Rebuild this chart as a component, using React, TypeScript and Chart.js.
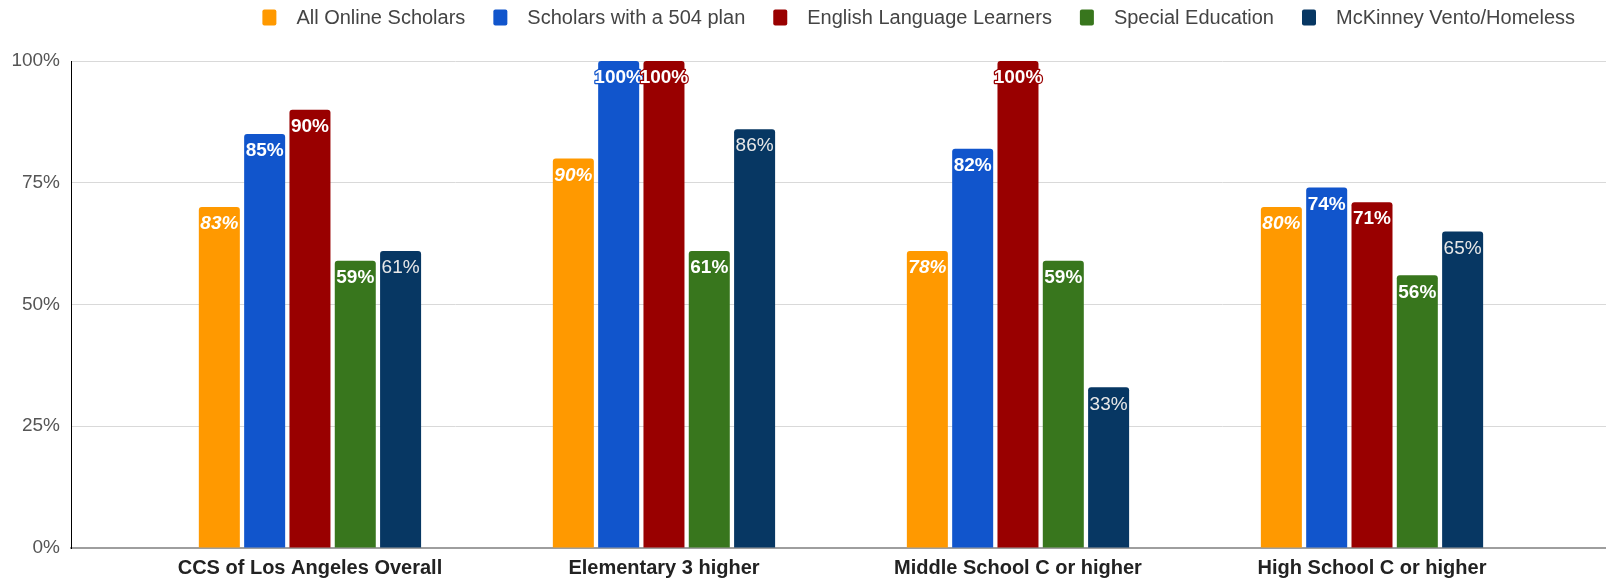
import React, { useEffect, useRef } from "react";
import { Chart, registerables } from "chart.js";

Chart.register(...registerables);

const categories = [
  "CCS of Los Angeles Overall",
  "Elementary 3 higher",
  "Middle School C or higher",
  "High School C or higher",
];

const seriesNames = [
  "All Online Scholars",
  "Scholars with a 504 plan",
  "English Language Learners",
  "Special Education",
  "McKinney Vento/Homeless",
];

const seriesColors = ["#ff9900", "#1155cc", "#990000", "#38761d", "#073763"];

// bar heights (percent)
const allOnline = [70, 80, 61, 70];
const plan504 = [85, 100, 82, 74];
const ell = [90, 100, 100, 71];
const specialEd = [59, 61, 59, 56];
const homeless = [61, 86, 33, 65];

// label texts shown on bars
const allOnlineLabels = ["83%", "90%", "78%", "80%"];
const plan504Labels = ["85%", "100%", "82%", "74%"];
const ellLabels = ["90%", "100%", "100%", "71%"];
const specialEdLabels = ["59%", "61%", "59%", "56%"];
const homelessLabels = ["61%", "86%", "33%", "65%"];

const yTicks = [0, 25, 50, 75, 100];

const seriesValues = [allOnline, plan504, ell, specialEd, homeless];
const seriesLabels = [allOnlineLabels, plan504Labels, ellLabels, specialEdLabels, homelessLabels];
const labelStyles = [
  { style: "italic", weight: "bold", color: "#ffffff" },
  { style: "normal", weight: "bold", color: "#ffffff" },
  { style: "normal", weight: "bold", color: "#ffffff" },
  { style: "normal", weight: "bold", color: "#ffffff" },
  { style: "normal", weight: "normal", color: "#e8e8e8" },
];

const FONT = "'Liberation Sans', Arial, sans-serif";

// custom legend: swatch, gap, text, gap ... right aligned
const customLegend = {
  id: "customLegend",
  afterDraw(chart: any) {
    const ctx = chart.ctx;
    const swW = 14;
    const swH = 16;
    const swGap = 20;
    const itemGap = 28;
    const rightEdge = chart.width - 31;
    const cy = 17.5;
    ctx.save();
    ctx.font = `20px ${FONT}`;
    const widths = seriesNames.map((n) => ctx.measureText(n).width);
    const total = widths.reduce((a, w) => a + swW + swGap + w, 0) + itemGap * (seriesNames.length - 1);
    let x = rightEdge - total;
    ctx.textBaseline = "middle";
    ctx.textAlign = "left";
    seriesNames.forEach((n, i) => {
      ctx.fillStyle = seriesColors[i];
      ctx.beginPath();
      if ((ctx as any).roundRect) (ctx as any).roundRect(x, cy - swH / 2, swW, swH, 2);
      else ctx.rect(x, cy - swH / 2, swW, swH);
      ctx.fill();
      ctx.fillStyle = "#444444";
      ctx.fillText(n, x + swW + swGap, cy + 1);
      x += swW + swGap + widths[i] + itemGap;
    });
    ctx.restore();
  },
};

const valueLabels = {
  id: "valueLabels",
  afterDatasetsDraw(chart: any) {
    const ctx = chart.ctx;
    chart.data.datasets.forEach((ds: any, di: number) => {
      const meta = chart.getDatasetMeta(di);
      const st = labelStyles[di];
      meta.data.forEach((bar: any, i: number) => {
        const text = seriesLabels[di][i];
        ctx.save();
        ctx.font = `${st.style} ${st.weight} 19px ${FONT}`;
        ctx.textAlign = "center";
        ctx.textBaseline = "middle";
        ctx.lineJoin = "round";
        ctx.lineWidth = 2.5;
        ctx.strokeStyle = seriesColors[di];
        ctx.strokeText(text, bar.x, bar.y + 17);
        ctx.fillStyle = st.color;
        ctx.fillText(text, bar.x, bar.y + 17);
        ctx.restore();
      });
    });
  },
};

export default function App() {
  const ref = useRef<HTMLCanvasElement | null>(null);

  useEffect(() => {
    if (!ref.current) return;
    const chart = new Chart(ref.current, {
      type: "bar",
      data: {
        datasets: seriesNames.map((name, si) => ({
          label: name,
          data: seriesValues[si].map((v, ci) => ({ x: ci, y: v })),
          backgroundColor: seriesColors[si],
          borderRadius: 3,
          borderSkipped: "start",
          categoryPercentage: 0.64,
          barPercentage: 0.905,
        })),
      },
      options: {
        animation: false,
        responsive: true,
        maintainAspectRatio: false,
        layout: { padding: { top: 61, left: 0, right: 0, bottom: 0 } },
        plugins: {
          tooltip: { enabled: false },
          legend: { display: false },
        },
        scales: {
          x: {
            type: "linear",
            offset: false,
            bounds: "data",
            min: -0.675,
            max: 3.661,
            grid: { display: false, drawTicks: false, offset: false },
            border: { display: true, color: "#9e9e9e", width: 2 },
            afterBuildTicks: (s: any) => {
              s.ticks = categories.map((_, i) => ({ value: i }));
            },
            ticks: {
              autoSkip: false,
              maxRotation: 0,
              padding: 8,
              color: "#222222",
              font: { family: FONT, size: 20, weight: "bold" },
              callback: (v: any) => {
                const r = Math.round(Number(v));
                return r >= 0 && r < categories.length ? categories[r] : "";
              },
            },
            afterFit: (s: any) => {
              s.height = 31;
            },
          },
          y: {
            min: 0,
            max: 100,
            grid: { color: "#d9d9d9", lineWidth: 1, drawTicks: false },
            border: { display: true, color: "#000000", width: 1 },
            ticks: {
              stepSize: 25,
              padding: 11,
              color: "#555555",
              font: { family: FONT, size: 19 },
              callback: (v: any) => (yTicks.includes(Number(v)) ? `${v}%` : ""),
            },
            afterFit: (s: any) => {
              s.width = 71;
            },
          },
        },
      } as any,
      plugins: [customLegend, valueLabels],
    });
    return () => chart.destroy();
  }, []);

  return (
    <div style={{ position: "absolute", left: 0, top: 0, width: 1606, height: 579, background: "#fff" }}>
      <canvas ref={ref} />
    </div>
  );
}
